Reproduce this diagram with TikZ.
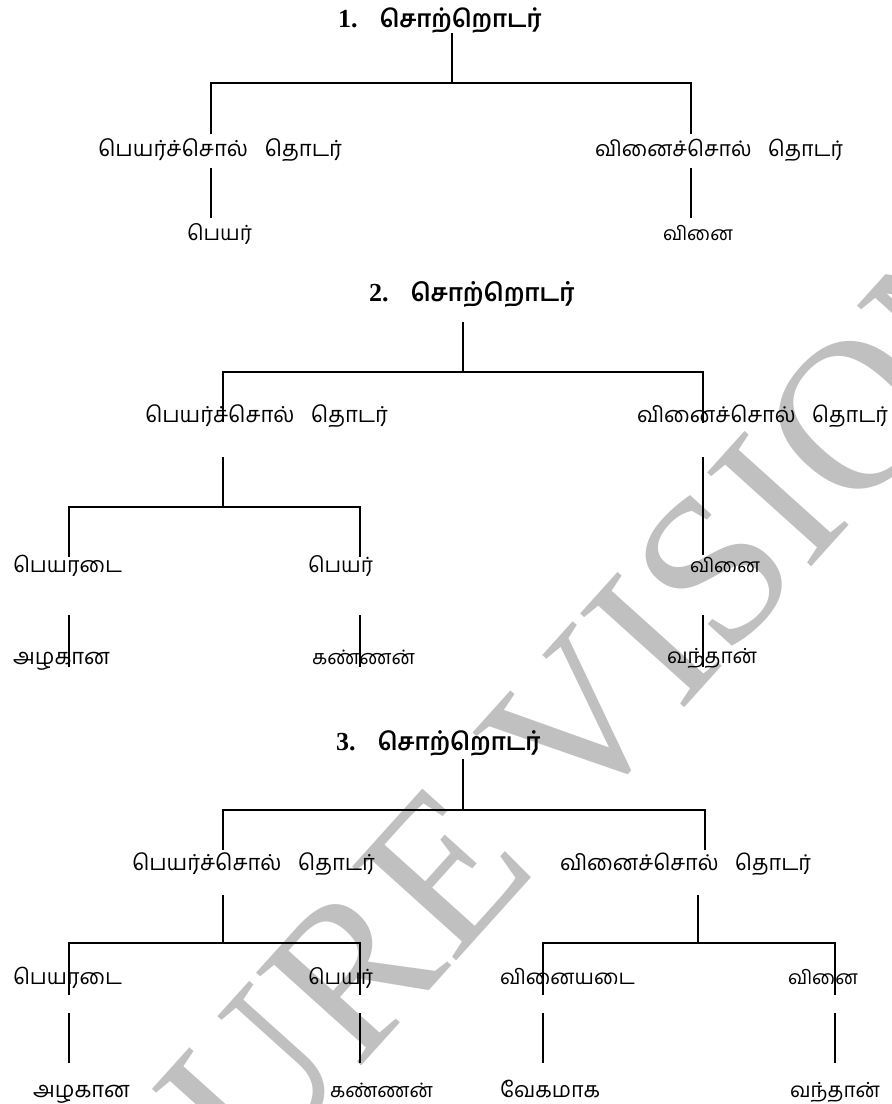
\documentclass[tikz,border=0pt]{standalone}
\usepackage{fontspec}
\usepackage{graphicx}
\newfontfamily\tamil[Script=Tamil]{Hind Madurai}
\newfontfamily\serifnum{Liberation Serif}
\definecolor{wmgray}{RGB}{192,192,192}
% scale a label to a given width (in pt)
\newcommand{\fitw}[2]{\resizebox{#1pt}{!}{#2}}
\newcommand{\wsep}{\hspace{0.75em}}
\newcommand{\ttlnum}[1]{{\serifnum\bfseries\fontsize{26}{30}\selectfont #1}\hspace{22pt}}

\begin{document}
\begin{tikzpicture}[x=1pt,y=-1pt,
  lbl/.style={inner sep=0pt, outer sep=0pt, anchor=base west, font=\tamil},
  ttl/.style={inner sep=0pt, outer sep=0pt, anchor=base west, font=\tamil\bfseries},
  link/.style={line width=1.8pt}]
\useasboundingbox (0,0) rectangle (892,1104);

% background watermark
\begin{scope}
  \clip (0,0) rectangle (892,1104);
  \node[rotate=48, inner sep=0pt, text=wmgray,
        font=\serifnum\fontsize{214}{214}\selectfont] (wm) at (566,736) {SURE VISION};
\end{scope}

% ---------------- tree 1 ----------------
\node[ttl] (t1) at (338,27) {\ttlnum{1.}\fitw{162}{சொற்றொடர்}};
\node[lbl] (np1) at (98,156)  {\fitw{244}{பெயர்ச்சொல்\wsep தொடர்}};
\node[lbl] (vp1) at (595,156) {\fitw{248}{வினைச்சொல்\wsep தொடர்}};
\node[lbl] (n1)  at (187,240) {\fitw{65}{பெயர்}};
\node[lbl] (v1)  at (663,240) {\fitw{70}{வினை}};

\coordinate (t1s) at (452,33);  \coordinate (t1j) at (452,83);
\coordinate (np1t) at (211,134); \coordinate (np1j) at (211,83);
\coordinate (vp1t) at (691,134); \coordinate (vp1j) at (691,83);
\coordinate (np1b) at (211,168); \coordinate (n1t) at (211,218);
\coordinate (vp1b) at (691,168); \coordinate (v1t) at (691,218);
\draw[link] (t1s) -- (t1j);
\draw[link] (np1t) -- (np1j) -- (vp1j) -- (vp1t);
\draw[link] (np1b) -- (n1t);
\draw[link] (vp1b) -- (v1t);

% ---------------- tree 2 ----------------
\node[ttl] (t2) at (369,301) {\ttlnum{2.}\fitw{164}{சொற்றொடர்}};
\node[lbl] (np2) at (145,422) {\fitw{243}{பெயர்ச்சொல்\wsep தொடர்}};
\node[lbl] (vp2) at (637,422) {\fitw{251}{வினைச்சொல்\wsep தொடர்}};
\node[lbl] (adj2) at (13,572)  {\fitw{109}{பெயரடை}};
\node[lbl] (n2)   at (308,572) {\fitw{65}{பெயர்}};
\node[lbl] (v2)   at (690,572) {\fitw{70}{வினை}};
\node[lbl] (w21)  at (13,664)  {\fitw{97}{அழகான}};
\node[lbl] (w22)  at (312,664) {\fitw{103}{கண்ணன்}};
\node[lbl] (w23)  at (667,663) {\fitw{90}{வந்தான்}};

\coordinate (t2s) at (463,322); \coordinate (t2j) at (463,372);
\coordinate (np2t) at (223,422); \coordinate (np2j) at (223,372);
\coordinate (vp2t) at (703,423); \coordinate (vp2j) at (703,372);
\coordinate (np2b) at (223,457); \coordinate (np2k) at (223,507);
\coordinate (adj2t) at (69,557); \coordinate (adj2j) at (69,507);
\coordinate (n2t) at (360,557);  \coordinate (n2j) at (360,507);
\coordinate (vp2b) at (703,457); \coordinate (v2t) at (703,555);
\coordinate (adj2b) at (69,615); \coordinate (w21t) at (69,667);
\coordinate (n2b) at (360,615);  \coordinate (w22t) at (360,667);
\coordinate (v2b) at (703,615);  \coordinate (w23t) at (703,667);
\draw[link] (t2s) -- (t2j);
\draw[link] (np2t) -- (np2j) -- (vp2j) -- (vp2t);
\draw[link] (np2b) -- (np2k);
\draw[link] (adj2t) -- (adj2j) -- (n2j) -- (n2t);
\draw[link] (vp2b) -- (v2t);
\draw[link] (adj2b) -- (w21t);
\draw[link] (n2b) -- (w22t);
\draw[link] (v2b) -- (w23t);

% ---------------- tree 3 ----------------
\node[ttl] (t3) at (336,750) {\ttlnum{3.}\fitw{163}{சொற்றொடர்}};
\node[lbl] (np3) at (132,870) {\fitw{243}{பெயர்ச்சொல்\wsep தொடர்}};
\node[lbl] (vp3) at (560,870) {\fitw{251}{வினைச்சொல்\wsep தொடர்}};
\node[lbl] (adj3) at (13,984)  {\fitw{109}{பெயரடை}};
\node[lbl] (n3)   at (308,984) {\fitw{65}{பெயர்}};
\node[lbl] (adv3) at (500,984) {\fitw{135}{வினையடை}};
\node[lbl] (v3)   at (788,984) {\fitw{70}{வினை}};
\node[lbl] (w31)  at (33,1097)  {\fitw{97}{அழகான}};
\node[lbl] (w32)  at (330,1097) {\fitw{103}{கண்ணன்}};
\node[lbl] (w33)  at (500,1097) {\fitw{100}{வேகமாக}};
\node[lbl] (w34)  at (790,1097) {\fitw{90}{வந்தான்}};

\coordinate (t3s) at (463,759); \coordinate (t3j) at (463,810);
\coordinate (np3t) at (223,850); \coordinate (np3j) at (223,810);
\coordinate (vp3t) at (705,850); \coordinate (vp3j) at (705,810);
\coordinate (np3b) at (223,895); \coordinate (np3k) at (223,943);
\coordinate (vp3b) at (698,895); \coordinate (vp3k) at (698,943);
\coordinate (adj3t) at (69,995);  \coordinate (adj3j) at (69,943);
\coordinate (n3t) at (360,995);   \coordinate (n3j) at (360,943);
\coordinate (adv3t) at (543,995); \coordinate (adv3j) at (543,943);
\coordinate (v3t) at (835,995);   \coordinate (v3j) at (835,943);
\coordinate (adj3b) at (69,1013);  \coordinate (w31t) at (69,1063);
\coordinate (n3b) at (360,1013);   \coordinate (w32t) at (360,1063);
\coordinate (adv3b) at (543,1013); \coordinate (w33t) at (543,1063);
\coordinate (v3b) at (835,1013);   \coordinate (w34t) at (835,1063);
\draw[link] (t3s) -- (t3j);
\draw[link] (np3t) -- (np3j) -- (vp3j) -- (vp3t);
\draw[link] (np3b) -- (np3k);
\draw[link] (vp3b) -- (vp3k);
\draw[link] (adj3t) -- (adj3j) -- (n3j) -- (n3t);
\draw[link] (adv3t) -- (adv3j) -- (v3j) -- (v3t);
\draw[link] (adj3b) -- (w31t);
\draw[link] (n3b) -- (w32t);
\draw[link] (adv3b) -- (w33t);
\draw[link] (v3b) -- (w34t);
\end{tikzpicture}
\end{document}
